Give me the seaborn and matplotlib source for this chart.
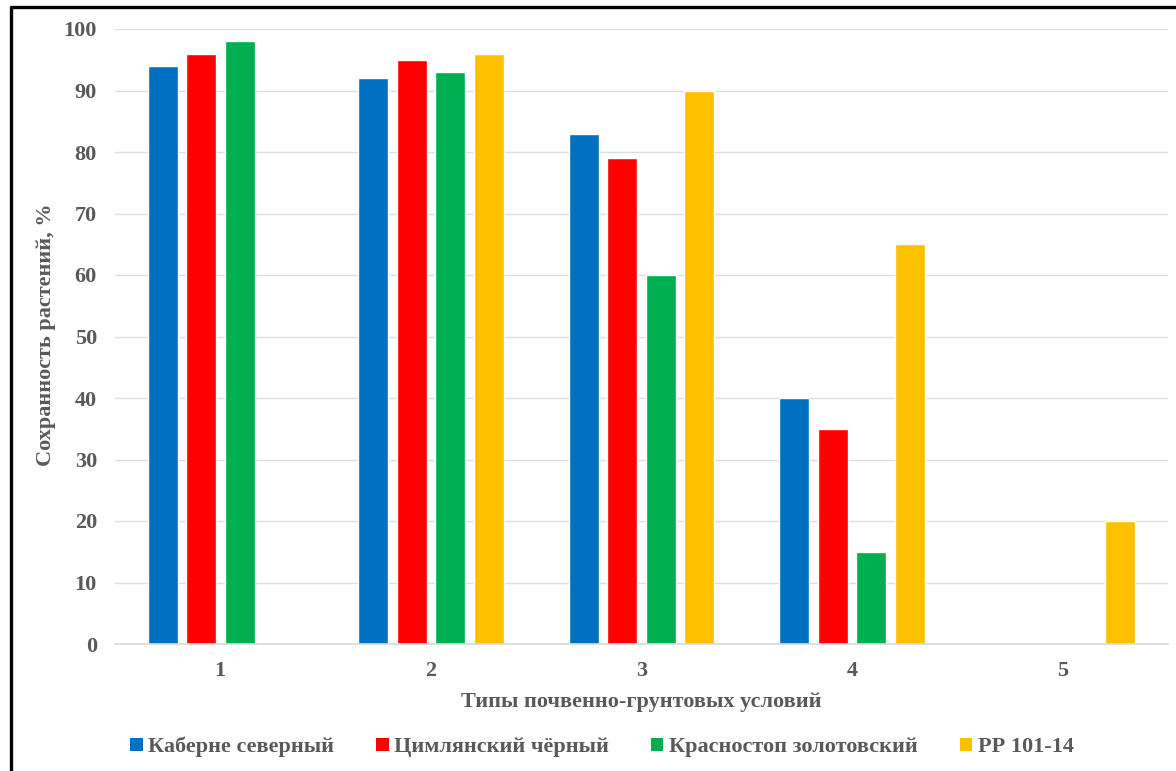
import numpy as np
import pandas as pd
import matplotlib
matplotlib.use("Agg")
import matplotlib.pyplot as plt
from matplotlib.lines import Line2D
from matplotlib.patches import Patch
import seaborn as sns

# Soil-ground condition types and plant survival by variety
categories = ["1", "2", "3", "4", "5"]
varieties = ["Каберне северный", "Цимлянский чёрный", "Красностоп золотовский", "РР 101-14"]
cabernet = [94, 92, 83, 40, None]
tsimlyansky = [96, 95, 79, 35, None]
krasnostop = [98, 93, 60, 15, None]
rr101 = [None, 96, 90, 65, 20]
colors = ["#0070C0", "#FF0000", "#00B050", "#FFC000"]

rows = []
for name, vals in zip(varieties, [cabernet, tsimlyansky, krasnostop, rr101]):
    for cat, v in zip(categories, vals):
        if v is not None:
            rows.append({"Тип": cat, "Сорт": name, "Сохранность": v})
df = pd.DataFrame(rows)

sns.set_theme(style="white")
plt.rcParams["font.family"] = ["Liberation Serif", "DejaVu Serif"]
plt.rcParams["font.weight"] = "bold"
text_color = "#595959"

fig = plt.figure(figsize=(11.76, 7.71), dpi=100)
ax = fig.add_axes([115 / 1176, 1 - 644 / 771, (1168 - 115) / 1176, (644 - 29) / 771])

sns.barplot(data=df, x="Тип", y="Сохранность", hue="Сорт", order=categories,
            hue_order=varieties, palette=colors, width=0.73, gap=0.22,
            errorbar=None, saturation=1, ax=ax, legend=False)

ax.set_ylim(0, 100)
ax.set_yticks(range(0, 101, 10))
ax.yaxis.grid(True, color="#DEDEDE", linewidth=1.0)
ax.set_axisbelow(True)
for s in ["top", "right", "left"]:
    ax.spines[s].set_visible(False)
ax.spines["bottom"].set_color("#D9D9D9")
ax.spines["bottom"].set_linewidth(1.2)
ax.tick_params(axis="both", length=0, labelsize=16, labelcolor=text_color)
ax.tick_params(axis="x", pad=12)
ax.tick_params(axis="y", pad=13)
for lab in ax.get_xticklabels() + ax.get_yticklabels():
    lab.set_fontweight("bold")

ax.set_xlabel("Типы почвенно-грунтовых условий", fontsize=16, fontweight="bold",
              color=text_color, labelpad=8)
ax.set_ylabel("")
fig.text(46 / 1176, 1 - 335 / 771, "Сохранность растений, %", rotation=90,
         ha="center", va="center", fontsize=16, fontweight="bold", color=text_color)

handles = [Patch(facecolor=c, edgecolor="none") for c in colors]
fig.legend(handles, varieties, loc="center", bbox_to_anchor=(602 / 1176, 1 - 747 / 771),
           ncol=4, frameon=False, handlelength=0.55, handleheight=0.55, handletextpad=0.25,
           columnspacing=1.9, prop={"size": 16, "weight": "bold"}, labelcolor=text_color)

# Frame lines along the left and top edges
fig.add_artist(Line2D([11 / 1176, 11 / 1176], [0, 1 - 7 / 771], transform=fig.transFigure,
                      color="black", linewidth=2.4))
fig.add_artist(Line2D([11 / 1176, 1], [1 - 7 / 771, 1 - 7 / 771], transform=fig.transFigure,
                      color="black", linewidth=2.4))

fig.savefig("out.png", dpi=100, facecolor="white")
